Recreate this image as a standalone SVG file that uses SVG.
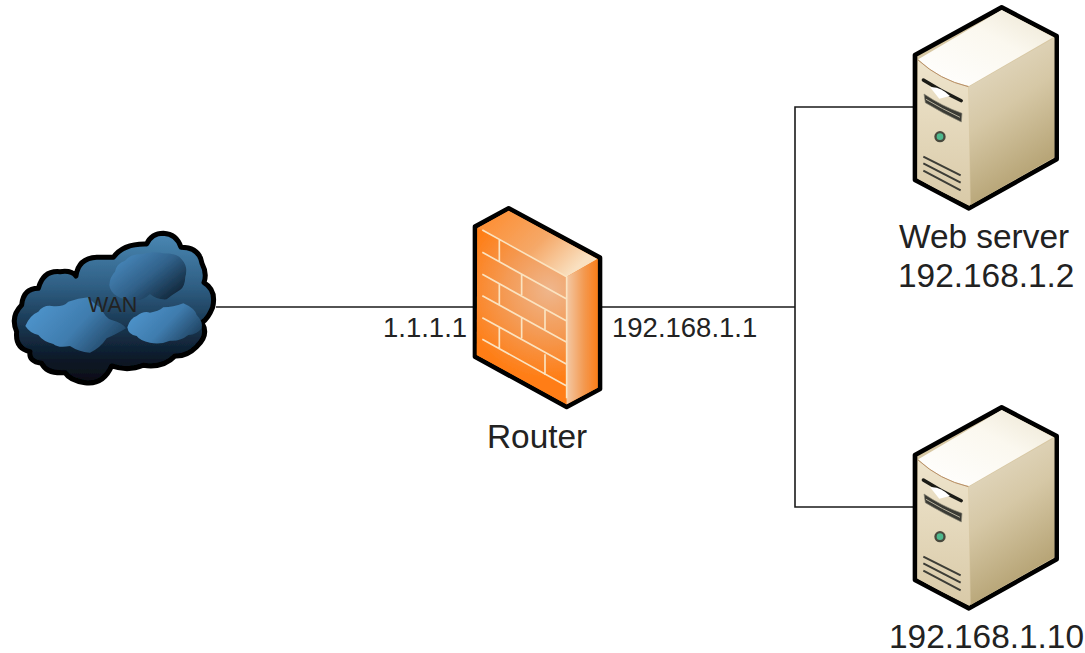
<svg xmlns="http://www.w3.org/2000/svg" xmlns:xlink="http://www.w3.org/1999/xlink" width="1085" height="653" viewBox="0 0 1085 653">
<style>
text{font-family:"Liberation Sans",Arial,sans-serif;fill:#222}
.big{font-size:33.4px}.mid{font-size:27.5px}
.wire{fill:none;stroke:#1a1a1a;stroke-width:1.6}
.mortar{fill:none;stroke:#fbe3c0;stroke-width:5}
.vent{fill:none;stroke:#3c3c36;stroke-width:6}
.edge{stroke:#000;stroke-width:14;stroke-linejoin:round}
</style>
<defs>
<filter id="soft" x="-5%" y="-5%" width="110%" height="110%"><feGaussianBlur stdDeviation="2"/></filter>
<linearGradient id="cloudBody" x1="0" y1="0" x2="0" y2="1"><stop offset="0" stop-color="#4a88b4"/><stop offset=".35" stop-color="#2f5f84"/><stop offset=".62" stop-color="#193650"/><stop offset=".85" stop-color="#0b1826"/><stop offset="1" stop-color="#070d15"/></linearGradient>
<linearGradient id="puff" x1="0" y1=".2" x2="1" y2=".7"><stop offset="0" stop-color="#5097cf"/><stop offset=".55" stop-color="#3f7cae"/><stop offset="1" stop-color="#1f4260"/></linearGradient>
<linearGradient id="puffTop" x1="0" y1="0" x2="1" y2=".8"><stop offset="0" stop-color="#4f93ca"/><stop offset=".55" stop-color="#31628b"/><stop offset="1" stop-color="#0f2234"/></linearGradient>
<radialGradient id="brick" gradientUnits="userSpaceOnUse" cx="270" cy="285" r="270"><stop offset="0" stop-color="#efb68c"/><stop offset=".5" stop-color="#f49a54"/><stop offset="1" stop-color="#ff7d14"/></radialGradient>
<linearGradient id="wallTop" x1="0" y1="0" x2="1" y2=".55"><stop offset="0" stop-color="#ff8a2a"/><stop offset=".6" stop-color="#f5a868"/><stop offset="1" stop-color="#f9e0c0"/></linearGradient>
<linearGradient id="wallSide" x1="0" y1="0" x2="1" y2="0"><stop offset="0" stop-color="#f3c8a4"/><stop offset=".55" stop-color="#f39a52"/><stop offset="1" stop-color="#fb7e1a"/></linearGradient>
<linearGradient id="srvTop" x1="0" y1="1" x2="1" y2="0"><stop offset="0" stop-color="#ffffff"/><stop offset=".6" stop-color="#fbf8ef"/><stop offset="1" stop-color="#ece5d2"/></linearGradient>
<linearGradient id="srvFront" x1="0" y1="0" x2="0" y2="1"><stop offset="0" stop-color="#eee4cc"/><stop offset="1" stop-color="#d9caa8"/></linearGradient>
<linearGradient id="srvSide" x1="0" y1="0" x2=".35" y2="1"><stop offset="0" stop-color="#e8dfcb"/><stop offset=".5" stop-color="#d6c8a6"/><stop offset="1" stop-color="#b3a070"/></linearGradient>
<g id="tower" transform="translate(900,0) scale(.3333)">
<g filter="url(#soft)">
<path class="edge" fill="#d8c8a4" d="M305 22L470 108V478L207 625L45 540V165Z"/>
<path fill="url(#srvTop)" d="M305 30L460 112L207 258Q120 240 55 178Z"/>
<path fill="url(#srvSide)" d="M207 260L463 114V472L212 615Z"/>
<path fill="url(#srvFront)" d="M54 180Q120 240 205 260L210 617Q120 575 52 535Z"/>
<path fill="none" stroke="#b98f66" stroke-width="3" d="M54 180Q120 240 205 260"/>
<path fill="none" stroke="#1c1c18" stroke-width="10" stroke-linecap="round" d="M70 240Q125 275 184 302"/>
<path fill="#fff" d="M90 262Q120 258 150 288L118 296Z"/>
<path fill="#3a3a34" stroke="#8a8676" stroke-width="2" d="M72 282Q125 318 186 340L184 366Q125 338 76 308Z"/>
<path fill="none" stroke="#b9b4a0" stroke-width="3" d="M78 298Q125 326 180 352"/>
<circle cx="120" cy="410" r="17" fill="#4a4a3e"/>
<circle cx="120" cy="410" r="10" fill="#4fb98e"/>
<path class="vent" d="M70 470L182 526M70 490L182 548M70 512L182 571"/>
</g>
</g>
</defs>
<g id="connectors">
<path class="wire" d="M216 307H475"/>
<path class="wire" d="M600 307H795"/>
<path class="wire" d="M915 107H795V507H915"/>
</g>
<g id="wan">
<g transform="translate(0,220) scale(.3333)" filter="url(#soft)">
<path fill="url(#cloudBody)" stroke="#000" stroke-width="15" stroke-linejoin="round" d="M490 40Q530 42 543 82Q598 82 606 130Q622 160 612 188Q650 210 638 262Q625 295 606 308Q628 345 590 380Q560 410 525 408Q490 445 430 436Q385 455 335 438Q310 495 255 488Q210 482 195 458Q140 462 125 430Q85 425 90 395Q45 385 50 335Q30 290 65 255Q70 205 115 205Q130 150 180 155Q215 150 228 168Q235 115 290 112Q325 112 340 112Q370 70 440 72Q455 40 490 40Z"/>
<path fill="url(#puff)" d="M76 318Q90 285 115 275Q130 255 155 258Q190 262 205 245Q235 235 265 232Q285 255 305 265Q315 295 335 300Q370 310 378 325Q345 345 320 355Q300 385 270 398Q235 395 210 378Q175 385 160 372Q130 365 115 345Q90 340 76 318Z"/>
<path fill="url(#puffTop)" d="M328 195Q330 170 345 155Q350 130 375 122Q395 100 425 103Q460 92 490 100Q535 100 545 118Q565 140 556 170Q555 200 540 210Q515 225 500 238Q470 240 450 222Q425 245 400 240Q370 240 350 228Q330 215 328 195Z"/>
<path fill="url(#puff)" d="M382 322Q390 295 410 288Q430 272 450 278Q475 275 490 262Q520 262 550 250Q585 265 590 285Q610 305 605 325Q590 345 565 345Q540 365 510 362Q480 375 450 368Q420 362 410 348Q385 345 382 322Z"/>
</g>
<text x="88" y="312" font-size="21.5">WAN</text>
</g>
<g id="router">
<g transform="translate(460,195) scale(.3333)" filter="url(#soft)">
<path class="edge" fill="#f58a30" d="M146 40L420 188V582L320 636L45 485V95Z"/>
<path fill="url(#wallTop)" d="M146 47L412 192L320 245L55 98Z"/>
<path fill="url(#brick)" d="M52 100L320 245V628L50 480Z"/>
<path fill="url(#wallSide)" d="M320 245L413 192V578L320 628Z"/>
<path class="mortar" d="M67 105L320 245V610M67 172L320 312M67 238L320 378M67 302L320 442M67 368L320 508M67 433L320 573M118 135V200M185 238V300M118 268V330M255 345V408M185 368V430M118 398V460M255 478V540"/>
</g>
<text class="big" x="487" y="448">Router</text>
<text class="mid" x="383" y="337">1.1.1.1</text>
<text class="mid" x="612" y="337">192.168.1.1</text>
</g>
<g id="web-server">
<use href="#tower" xlink:href="#tower"/>
<text class="big" x="899" y="248">Web server</text>
<text class="big" x="898" y="287">192.168.1.2</text>
</g>
<g id="host">
<use href="#tower" xlink:href="#tower" y="400"/>
<text class="big" x="889" y="648">192.168.1.10</text>
</g>
</svg>
